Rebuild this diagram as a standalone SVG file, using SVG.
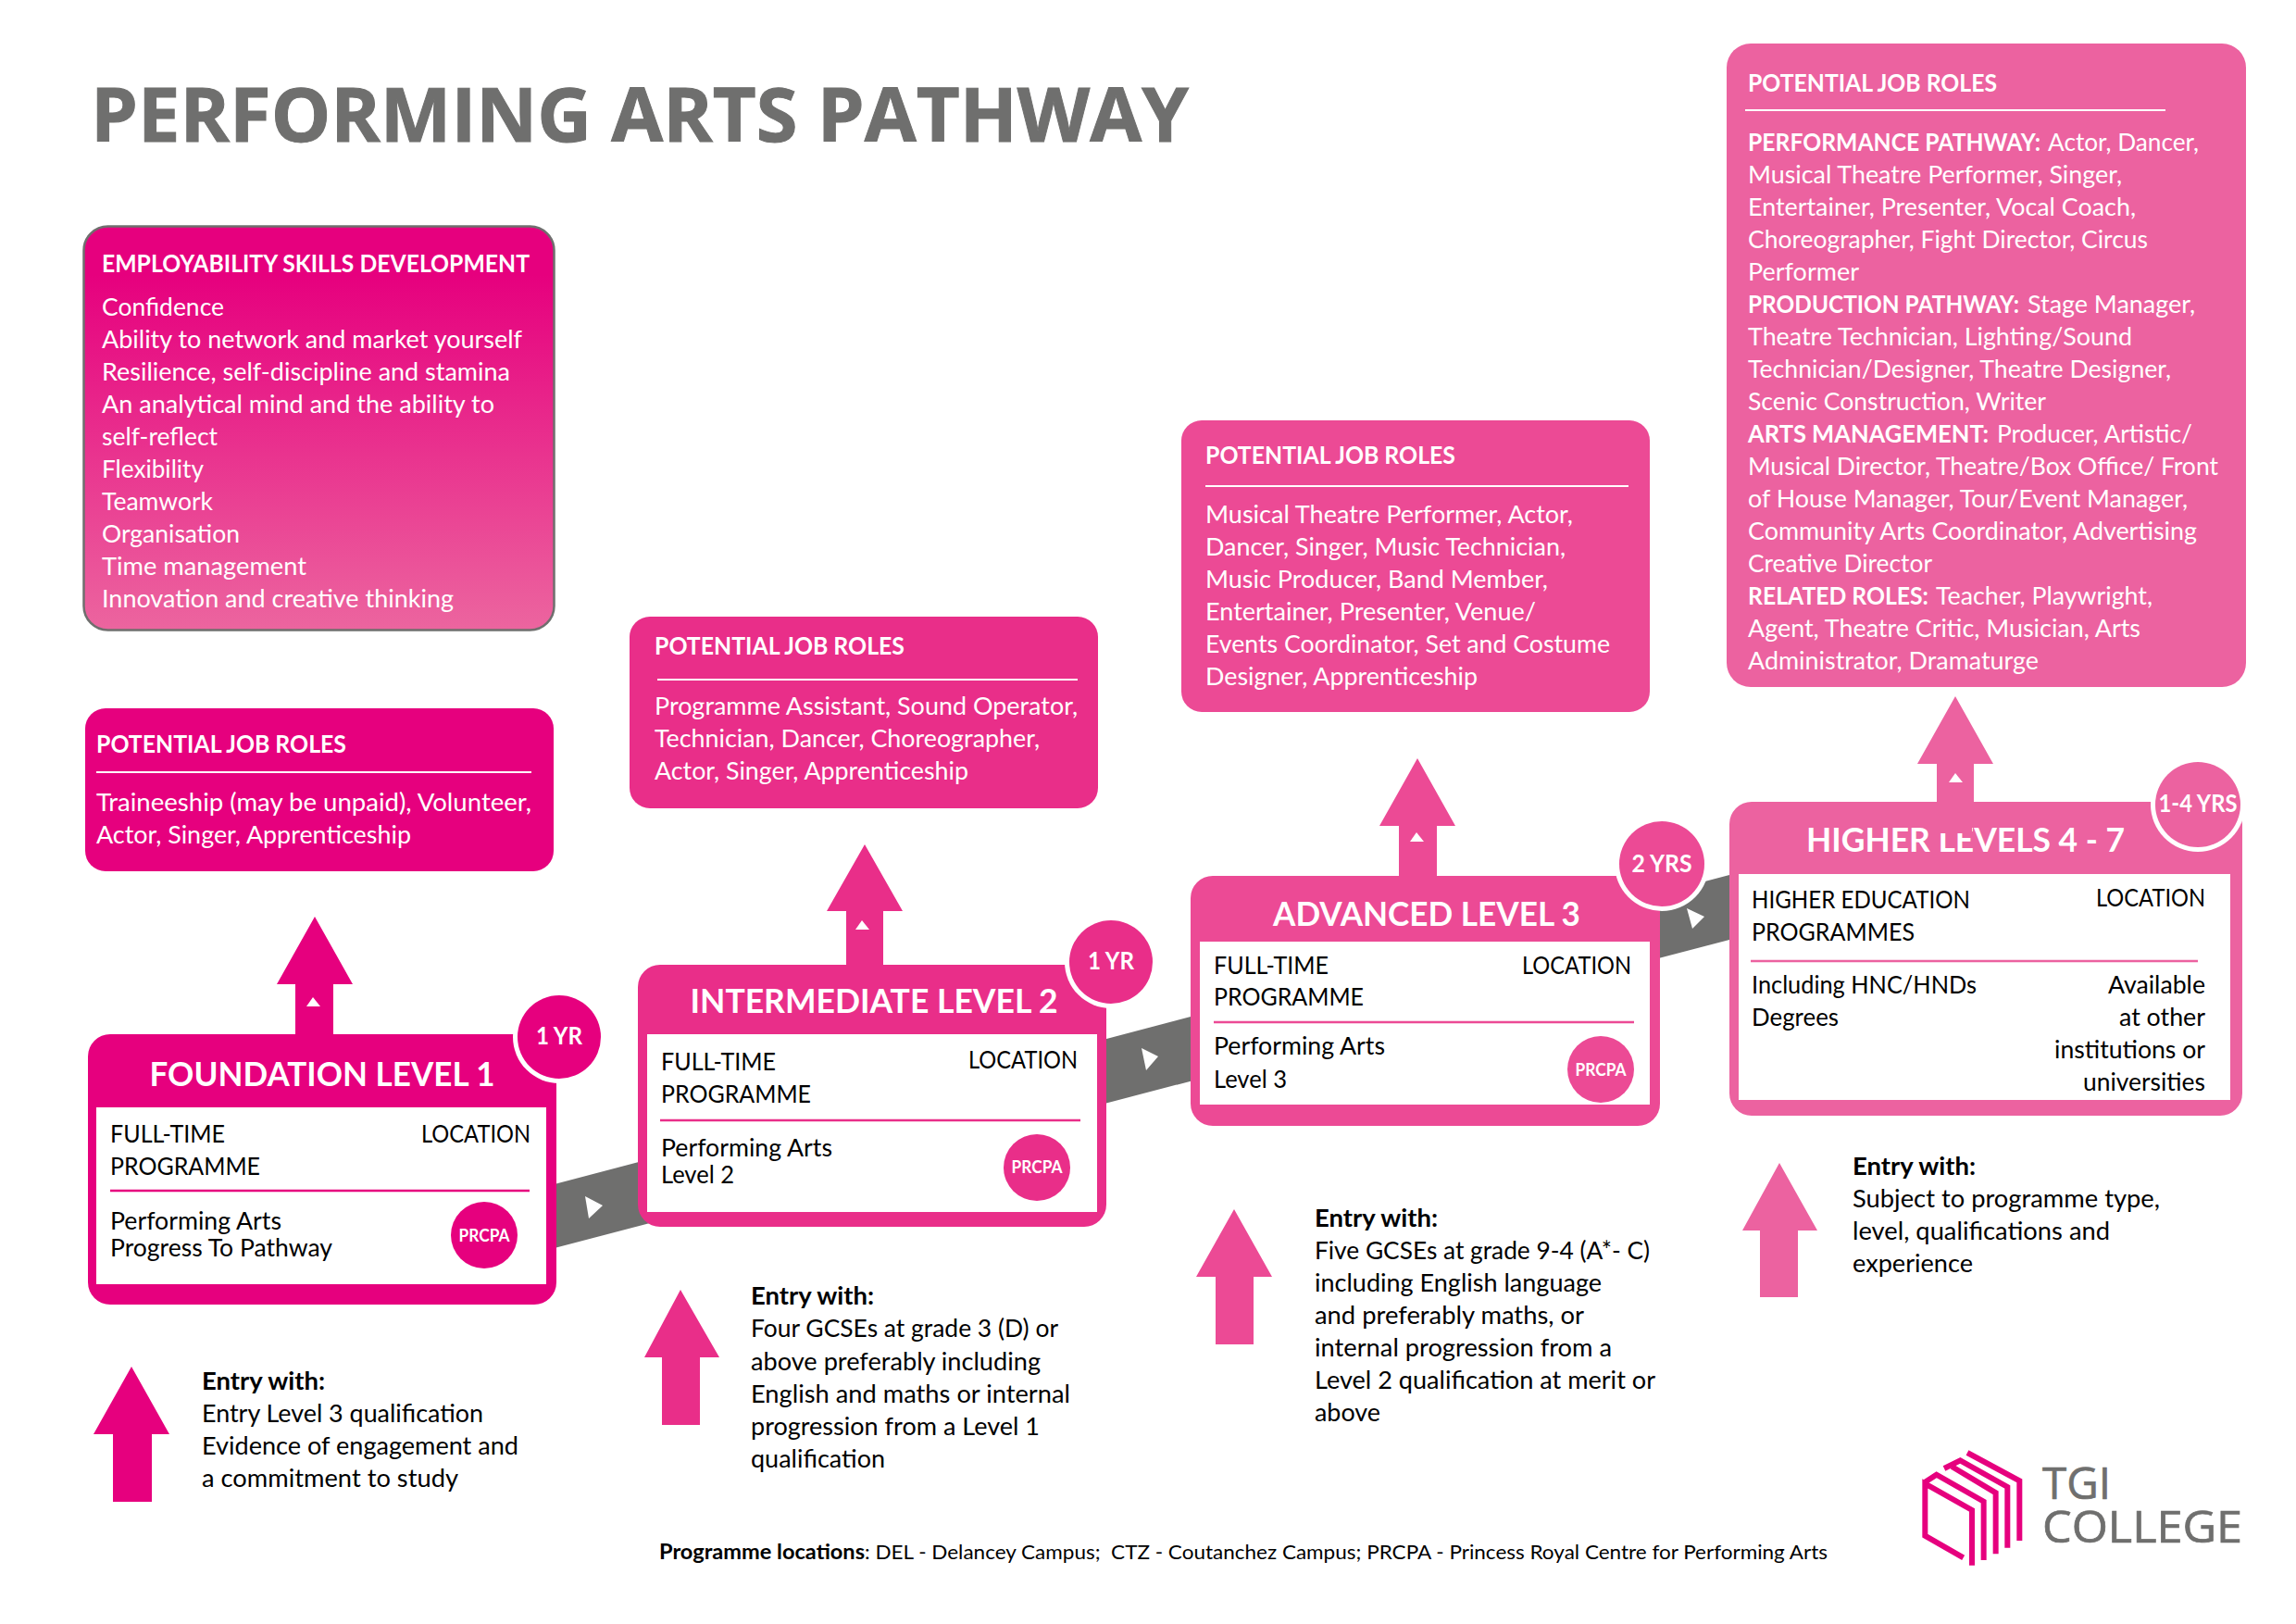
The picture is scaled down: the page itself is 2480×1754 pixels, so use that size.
<svg xmlns="http://www.w3.org/2000/svg" width="2480" height="1754" viewBox="0 0 2480 1754">
<defs>
<linearGradient id="skillsGrad" x1="0" y1="0" x2="0" y2="1"><stop offset="0" stop-color="#e6007e"/><stop offset="0.12" stop-color="#e6007e"/><stop offset="1" stop-color="#ec659f"/></linearGradient>
</defs>
<style>
text{font-family:Lato,"Open Sans","Liberation Sans",sans-serif;white-space:pre}
.c1{fill:#e6007e}.c2{fill:#e92e89}.c3{fill:#ec4a95}.c4{fill:#ec62a0}
.s1{stroke:#e6007e}.s2{stroke:#e92e89}.s3{stroke:#ec4a95}.s4{stroke:#ec62a0}
.w{fill:#fff}
.rule{stroke-width:2.5;fill:none}
.wrule{stroke:#fff;stroke-width:2;fill:none}
.t{font-size:26.5px;fill:#fff}
.tb{font-size:26.5px;fill:#fff;font-weight:700}
.h{font-size:26.5px;fill:#fff;font-weight:700}
.k{font-size:26.5px;fill:#000}
.kr{font-size:26.5px;fill:#000;text-anchor:end}
.kb{font-size:26.5px;fill:#000;font-weight:700}
.lv{font-size:37px;fill:#fff;font-weight:700;text-anchor:middle}
.yr{font-size:26px;fill:#fff;font-weight:700;text-anchor:middle}
.pr{font-size:19px;fill:#fff;font-weight:700;text-anchor:middle}
.band{fill:#6f6f6e}
.logo{fill:none;stroke:#e6007e;stroke-width:18}
</style>
<rect width="2480" height="1754" fill="#fff"/>
<text id="title" x="98" y="153" font-size="81" font-weight="700" fill="#6f6f6e" stroke="#6f6f6e" stroke-width="1" textLength="1186" lengthAdjust="spacingAndGlyphs" style="font-family:'Open Sans','Noto Sans',sans-serif">PERFORMING ARTS PATHWAY</text>

<g id="connectors">
<polygon class="band" points="595,1280 1868,945 1868,1015 595,1349"/>
<polygon class="w" points="632,1292 651,1302 636,1316"/>
<polygon class="w" points="1233,1132 1251,1141 1238,1156"/>
<polygon class="w" points="1822,981 1841,990 1828,1003"/>
<polygon class="c1" points="340,990 381,1063 360,1063 360,1120 319,1120 319,1063 299,1063"/>
<polygon class="w" points="338,1077 346,1087 331,1087"/>
<polygon class="c2" points="934,912 975,984 954,984 954,1044 914,1044 914,984 893,984"/>
<polygon class="w" points="931,994 939,1004 924,1004"/>
<polygon class="c3" points="1531,819 1572,892 1552,892 1552,948 1511,948 1511,892 1490,892"/>
<polygon class="w" points="1530,899 1538,909 1523,909"/>
<polygon class="c4" points="2112,752 2153,825 2132,825 2132,868 2092,868 2092,825 2071,825"/>
<polygon class="w" points="2112,835 2120,845 2105,845"/>
<polygon class="c1" points="142,1476 183,1549 164,1549 164,1622 122,1622 122,1549 101,1549"/>
<polygon class="c2" points="735,1393 777,1466 756,1466 756,1539 715,1539 715,1466 696,1466"/>
<polygon class="c3" points="1333,1306 1374,1379 1354,1379 1354,1452 1313,1452 1313,1379 1292,1379"/>
<polygon class="c4" points="1922,1256 1963,1329 1942,1329 1942,1401 1901,1401 1901,1329 1882,1329"/>
</g>

<g id="skills">
<rect x="90.500" y="244.500" width="508" height="436" rx="26" fill="url(#skillsGrad)" stroke="#6f6f6e" stroke-width="2.500"/>
<text class="h" x="110" y="294" textLength="462" lengthAdjust="spacingAndGlyphs">EMPLOYABILITY SKILLS DEVELOPMENT</text>
<text class="t" x="110" y="341" textLength="132" lengthAdjust="spacingAndGlyphs">Confidence</text>
<text class="t" x="110" y="376" textLength="454" lengthAdjust="spacingAndGlyphs">Ability to network and market yourself</text>
<text class="t" x="110" y="411" textLength="441" lengthAdjust="spacingAndGlyphs">Resilience, self-discipline and stamina</text>
<text class="t" x="110" y="446" textLength="424" lengthAdjust="spacingAndGlyphs">An analytical mind and the ability to</text>
<text class="t" x="110" y="481" textLength="125" lengthAdjust="spacingAndGlyphs">self-reflect</text>
<text class="t" x="110" y="516" textLength="110" lengthAdjust="spacingAndGlyphs">Flexibility</text>
<text class="t" x="110" y="551" textLength="120" lengthAdjust="spacingAndGlyphs">Teamwork</text>
<text class="t" x="110" y="586" textLength="149" lengthAdjust="spacingAndGlyphs">Organisation</text>
<text class="t" x="110" y="621" textLength="221" lengthAdjust="spacingAndGlyphs">Time management</text>
<text class="t" x="110" y="656" textLength="380" lengthAdjust="spacingAndGlyphs">Innovation and creative thinking</text>
</g>

<g id="roles-foundation">
<rect class="c1" x="92" y="765" width="506" height="176" rx="22"/>
<text class="h" x="104" y="813" textLength="270" lengthAdjust="spacingAndGlyphs">POTENTIAL JOB ROLES</text>
<line class="wrule" x1="104" y1="834" x2="574" y2="834"/>
<text class="t" x="104" y="876" textLength="470" lengthAdjust="spacingAndGlyphs">Traineeship (may be unpaid), Volunteer,</text>
<text class="t" x="104" y="911" textLength="340" lengthAdjust="spacingAndGlyphs">Actor, Singer, Apprenticeship</text>
</g>

<g id="roles-intermediate">
<rect class="c2" x="680" y="666" width="506" height="207" rx="22"/>
<text class="h" x="707" y="707" textLength="270" lengthAdjust="spacingAndGlyphs">POTENTIAL JOB ROLES</text>
<line class="wrule" x1="710" y1="734" x2="1164" y2="734"/>
<text class="t" x="707" y="772" textLength="457" lengthAdjust="spacingAndGlyphs">Programme Assistant, Sound Operator,</text>
<text class="t" x="707" y="807" textLength="416" lengthAdjust="spacingAndGlyphs">Technician, Dancer, Choreographer,</text>
<text class="t" x="707" y="842" textLength="339" lengthAdjust="spacingAndGlyphs">Actor, Singer, Apprenticeship</text>
</g>

<g id="roles-advanced">
<rect class="c3" x="1276" y="454" width="506" height="315" rx="22"/>
<text class="h" x="1302" y="501" textLength="270" lengthAdjust="spacingAndGlyphs">POTENTIAL JOB ROLES</text>
<line class="wrule" x1="1302" y1="525" x2="1759" y2="525"/>
<text class="t" x="1302" y="565" textLength="397" lengthAdjust="spacingAndGlyphs">Musical Theatre Performer, Actor,</text>
<text class="t" x="1302" y="600" textLength="389" lengthAdjust="spacingAndGlyphs">Dancer, Singer, Music Technician,</text>
<text class="t" x="1302" y="635" textLength="370" lengthAdjust="spacingAndGlyphs">Music Producer, Band Member,</text>
<text class="t" x="1302" y="670" textLength="357" lengthAdjust="spacingAndGlyphs">Entertainer, Presenter, Venue/</text>
<text class="t" x="1302" y="705" textLength="437" lengthAdjust="spacingAndGlyphs">Events Coordinator, Set and Costume</text>
<text class="t" x="1302" y="740" textLength="294" lengthAdjust="spacingAndGlyphs">Designer, Apprenticeship</text>
</g>

<g id="roles-higher">
<rect class="c4" x="1865" y="47" width="561" height="695" rx="26"/>
<text class="h" x="1888" y="99" textLength="269" lengthAdjust="spacingAndGlyphs">POTENTIAL JOB ROLES</text>
<line class="wrule" x1="1885" y1="119" x2="2339" y2="119"/>
<text class="t" y="163"><tspan class="tb" x="1888" textLength="316" lengthAdjust="spacingAndGlyphs">PERFORMANCE PATHWAY:</tspan><tspan x="2212" textLength="163" lengthAdjust="spacingAndGlyphs">Actor, Dancer,</tspan></text>
<text class="t" x="1888" y="198" textLength="404" lengthAdjust="spacingAndGlyphs">Musical Theatre Performer, Singer,</text>
<text class="t" x="1888" y="233" textLength="419" lengthAdjust="spacingAndGlyphs">Entertainer, Presenter, Vocal Coach,</text>
<text class="t" x="1888" y="268" textLength="432" lengthAdjust="spacingAndGlyphs">Choreographer, Fight Director, Circus</text>
<text class="t" x="1888" y="303" textLength="120" lengthAdjust="spacingAndGlyphs">Performer</text>
<text class="t" y="338"><tspan class="tb" x="1888" textLength="293" lengthAdjust="spacingAndGlyphs">PRODUCTION PATHWAY:</tspan><tspan x="2190" textLength="181" lengthAdjust="spacingAndGlyphs">Stage Manager,</tspan></text>
<text class="t" x="1888" y="373" textLength="415" lengthAdjust="spacingAndGlyphs">Theatre Technician, Lighting/Sound</text>
<text class="t" x="1888" y="408" textLength="457" lengthAdjust="spacingAndGlyphs">Technician/Designer, Theatre Designer,</text>
<text class="t" x="1888" y="443" textLength="322" lengthAdjust="spacingAndGlyphs">Scenic Construction, Writer</text>
<text class="t" y="478"><tspan class="tb" x="1888" textLength="260" lengthAdjust="spacingAndGlyphs">ARTS MANAGEMENT:</tspan><tspan x="2157" textLength="211" lengthAdjust="spacingAndGlyphs">Producer, Artistic/</tspan></text>
<text class="t" x="1888" y="513" textLength="508" lengthAdjust="spacingAndGlyphs">Musical Director, Theatre/Box Office/ Front</text>
<text class="t" x="1888" y="548" textLength="475" lengthAdjust="spacingAndGlyphs">of House Manager, Tour/Event Manager,</text>
<text class="t" x="1888" y="583" textLength="485" lengthAdjust="spacingAndGlyphs">Community Arts Coordinator, Advertising</text>
<text class="t" x="1888" y="618" textLength="199" lengthAdjust="spacingAndGlyphs">Creative Director</text>
<text class="t" y="653"><tspan class="tb" x="1888" textLength="195" lengthAdjust="spacingAndGlyphs">RELATED ROLES:</tspan><tspan x="2091" textLength="234" lengthAdjust="spacingAndGlyphs">Teacher, Playwright,</tspan></text>
<text class="t" x="1888" y="688" textLength="424" lengthAdjust="spacingAndGlyphs">Agent, Theatre Critic, Musician, Arts</text>
<text class="t" x="1888" y="723" textLength="314" lengthAdjust="spacingAndGlyphs">Administrator, Dramaturge</text>
</g>

<g id="level-foundation">
<rect class="c1" x="95" y="1117" width="506" height="292" rx="24"/>
<rect class="w" x="104" y="1196" width="486" height="191"/>
<circle class="w" cx="604" cy="1120" r="50"/>
<circle class="c1" cx="604" cy="1120" r="45"/>
<text class="yr" x="604" y="1128" textLength="50" lengthAdjust="spacingAndGlyphs">1 YR</text>
<text class="lv" x="348" y="1173" textLength="373" lengthAdjust="spacingAndGlyphs">FOUNDATION LEVEL 1</text>
<text class="k" x="119" y="1234" textLength="124" lengthAdjust="spacingAndGlyphs">FULL-TIME</text>
<text class="k" x="119" y="1269" textLength="162" lengthAdjust="spacingAndGlyphs">PROGRAMME</text>
<text class="kr" x="573" y="1234" textLength="118" lengthAdjust="spacingAndGlyphs">LOCATION</text>
<line class="rule s1" x1="119" y1="1286" x2="572" y2="1286"/>
<text class="k" x="119" y="1328" textLength="185" lengthAdjust="spacingAndGlyphs">Performing Arts</text>
<text class="k" x="119" y="1357" textLength="240" lengthAdjust="spacingAndGlyphs">Progress To Pathway</text>
<circle class="c1" cx="523" cy="1334" r="36"/>
<text class="pr" x="523" y="1341" textLength="55" lengthAdjust="spacingAndGlyphs">PRCPA</text>
</g>

<g id="level-intermediate">
<rect class="c2" x="689" y="1042" width="506" height="283" rx="24"/>
<rect class="w" x="699" y="1117" width="486" height="192"/>
<circle class="w" cx="1200" cy="1039" r="50"/>
<circle class="c2" cx="1200" cy="1039" r="45"/>
<text class="yr" x="1200" y="1047" textLength="50" lengthAdjust="spacingAndGlyphs">1 YR</text>
<text class="lv" x="944" y="1094" textLength="397" lengthAdjust="spacingAndGlyphs">INTERMEDIATE LEVEL 2</text>
<text class="k" x="714" y="1156" textLength="124" lengthAdjust="spacingAndGlyphs">FULL-TIME</text>
<text class="k" x="714" y="1191" textLength="162" lengthAdjust="spacingAndGlyphs">PROGRAMME</text>
<text class="kr" x="1164" y="1154" textLength="118" lengthAdjust="spacingAndGlyphs">LOCATION</text>
<line class="rule s2" x1="713" y1="1210" x2="1167" y2="1210"/>
<text class="k" x="714" y="1249" textLength="185" lengthAdjust="spacingAndGlyphs">Performing Arts</text>
<text class="k" x="714" y="1278" textLength="79" lengthAdjust="spacingAndGlyphs">Level 2</text>
<circle class="c2" cx="1120" cy="1261" r="36"/>
<text class="pr" x="1120" y="1267" textLength="55" lengthAdjust="spacingAndGlyphs">PRCPA</text>
</g>

<g id="level-advanced">
<rect class="c3" x="1286" y="946" width="507" height="270" rx="24"/>
<rect class="w" x="1296" y="1017" width="486" height="176"/>
<circle class="w" cx="1795" cy="933" r="51"/>
<circle class="c3" cx="1795" cy="933" r="46"/>
<text class="yr" x="1795" y="942" textLength="65" lengthAdjust="spacingAndGlyphs">2 YRS</text>
<text class="lv" x="1541" y="1000" textLength="332" lengthAdjust="spacingAndGlyphs">ADVANCED LEVEL 3</text>
<text class="k" x="1311" y="1052" textLength="124" lengthAdjust="spacingAndGlyphs">FULL-TIME</text>
<text class="k" x="1311" y="1086" textLength="162" lengthAdjust="spacingAndGlyphs">PROGRAMME</text>
<text class="kr" x="1762" y="1052" textLength="118" lengthAdjust="spacingAndGlyphs">LOCATION</text>
<line class="rule s3" x1="1311" y1="1104" x2="1765" y2="1104"/>
<text class="k" x="1311" y="1139" textLength="185" lengthAdjust="spacingAndGlyphs">Performing Arts</text>
<text class="k" x="1311" y="1175" textLength="79" lengthAdjust="spacingAndGlyphs">Level 3</text>
<circle class="c3" cx="1729" cy="1155" r="36"/>
<text class="pr" x="1729" y="1162" textLength="55" lengthAdjust="spacingAndGlyphs">PRCPA</text>
</g>

<g id="level-higher">
<rect class="c4" x="1868" y="866" width="554" height="339" rx="24"/>
<rect class="w" x="1878" y="944" width="531" height="244"/>
<circle class="w" cx="2374" cy="869" r="51"/>
<circle class="c4" cx="2374" cy="869" r="46"/>
<text class="yr" x="2374" y="877" textLength="85" lengthAdjust="spacingAndGlyphs">1-4 YRS</text>
<text class="lv" x="2123" y="920" textLength="344" lengthAdjust="spacingAndGlyphs">HIGHER LEVELS 4 - 7</text>
<rect class="c4" x="2092" y="888" width="38" height="12"/>
<text class="k" x="1892" y="981" textLength="236" lengthAdjust="spacingAndGlyphs">HIGHER EDUCATION</text>
<text class="k" x="1892" y="1016" textLength="176" lengthAdjust="spacingAndGlyphs">PROGRAMMES</text>
<text class="kr" x="2382" y="979" textLength="118" lengthAdjust="spacingAndGlyphs">LOCATION</text>
<line class="rule s4" x1="1891" y1="1038" x2="2374" y2="1038"/>
<text class="k" x="1892" y="1073" textLength="243" lengthAdjust="spacingAndGlyphs">Including HNC/HNDs</text>
<text class="k" x="1892" y="1108" textLength="94" lengthAdjust="spacingAndGlyphs">Degrees</text>
<text class="kr" x="2382" y="1073" textLength="105" lengthAdjust="spacingAndGlyphs">Available</text>
<text class="kr" x="2382" y="1108" textLength="93" lengthAdjust="spacingAndGlyphs">at other</text>
<text class="kr" x="2382" y="1143" textLength="163" lengthAdjust="spacingAndGlyphs">institutions or</text>
<text class="kr" x="2382" y="1178" textLength="132" lengthAdjust="spacingAndGlyphs">universities</text>
</g>

<g id="entry-foundation">
<text class="kb" x="218" y="1501" textLength="133" lengthAdjust="spacingAndGlyphs">Entry with:</text>
<text class="k" x="218" y="1536" textLength="304" lengthAdjust="spacingAndGlyphs">Entry Level 3 qualification</text>
<text class="k" x="218" y="1571" textLength="342" lengthAdjust="spacingAndGlyphs">Evidence of engagement and</text>
<text class="k" x="218" y="1606" textLength="277" lengthAdjust="spacingAndGlyphs">a commitment to study</text>
</g>
<g id="entry-intermediate">
<text class="kb" x="811" y="1409" textLength="133" lengthAdjust="spacingAndGlyphs">Entry with:</text>
<text class="k" x="811" y="1444" textLength="332" lengthAdjust="spacingAndGlyphs">Four GCSEs at grade 3 (D) or</text>
<text class="k" x="811" y="1480" textLength="313" lengthAdjust="spacingAndGlyphs">above preferably including</text>
<text class="k" x="811" y="1515" textLength="345" lengthAdjust="spacingAndGlyphs">English and maths or internal</text>
<text class="k" x="811" y="1550" textLength="312" lengthAdjust="spacingAndGlyphs">progression from a Level 1</text>
<text class="k" x="811" y="1585" textLength="145" lengthAdjust="spacingAndGlyphs">qualification</text>
</g>
<g id="entry-advanced">
<text class="kb" x="1420" y="1325" textLength="133" lengthAdjust="spacingAndGlyphs">Entry with:</text>
<text class="k" x="1420" y="1360" textLength="362" lengthAdjust="spacingAndGlyphs">Five GCSEs at grade 9-4 (A*- C)</text>
<text class="k" x="1420" y="1395" textLength="310" lengthAdjust="spacingAndGlyphs">including English language</text>
<text class="k" x="1420" y="1430" textLength="291" lengthAdjust="spacingAndGlyphs">and preferably maths, or</text>
<text class="k" x="1420" y="1465" textLength="321" lengthAdjust="spacingAndGlyphs">internal progression from a</text>
<text class="k" x="1420" y="1500" textLength="368" lengthAdjust="spacingAndGlyphs">Level 2 qualification at merit or</text>
<text class="k" x="1420" y="1535" textLength="71" lengthAdjust="spacingAndGlyphs">above</text>
</g>
<g id="entry-higher">
<text class="kb" x="2001" y="1269" textLength="133" lengthAdjust="spacingAndGlyphs">Entry with:</text>
<text class="k" x="2001" y="1304" textLength="332" lengthAdjust="spacingAndGlyphs">Subject to programme type,</text>
<text class="k" x="2001" y="1339" textLength="278" lengthAdjust="spacingAndGlyphs">level, qualifications and</text>
<text class="k" x="2001" y="1374" textLength="130" lengthAdjust="spacingAndGlyphs">experience</text>
</g>

<text id="footer" y="1684" font-size="22" fill="#000"><tspan x="712" font-weight="700" textLength="222" lengthAdjust="spacingAndGlyphs">Programme locations</tspan><tspan x="934" textLength="1040" lengthAdjust="spacingAndGlyphs">: DEL - Delancey Campus;  CTZ - Coutanchez Campus; PRCPA - Princess Royal Centre for Performing Arts</tspan></text>

<g id="logo">
<g transform="translate(2040,1530) scale(0.3333)">
<path class="logo" d="M242,457 L118,386 L118,217 L270,303 L270,482"/>
<path class="logo" d="M118,212 L155,188 L308,275 L308,465"/>
<path class="logo" d="M205,162 L347,247 L347,445"/>
<path class="logo" d="M180,168 L232,142 L385,228 L385,425"/>
<path class="logo" d="M255,117 L424,208 L424,402"/>
</g>
<text x="2206" y="1619" font-size="47" fill="#6f6f6e" stroke="#6f6f6e" stroke-width="0.7" textLength="74" lengthAdjust="spacingAndGlyphs" style="font-family:'Open Sans',sans-serif">TGI</text>
<text x="2206" y="1666" font-size="47" fill="#6f6f6e" stroke="#6f6f6e" stroke-width="0.7" textLength="216" lengthAdjust="spacingAndGlyphs" style="font-family:'Open Sans',sans-serif">COLLEGE</text>
</g>
</svg>
